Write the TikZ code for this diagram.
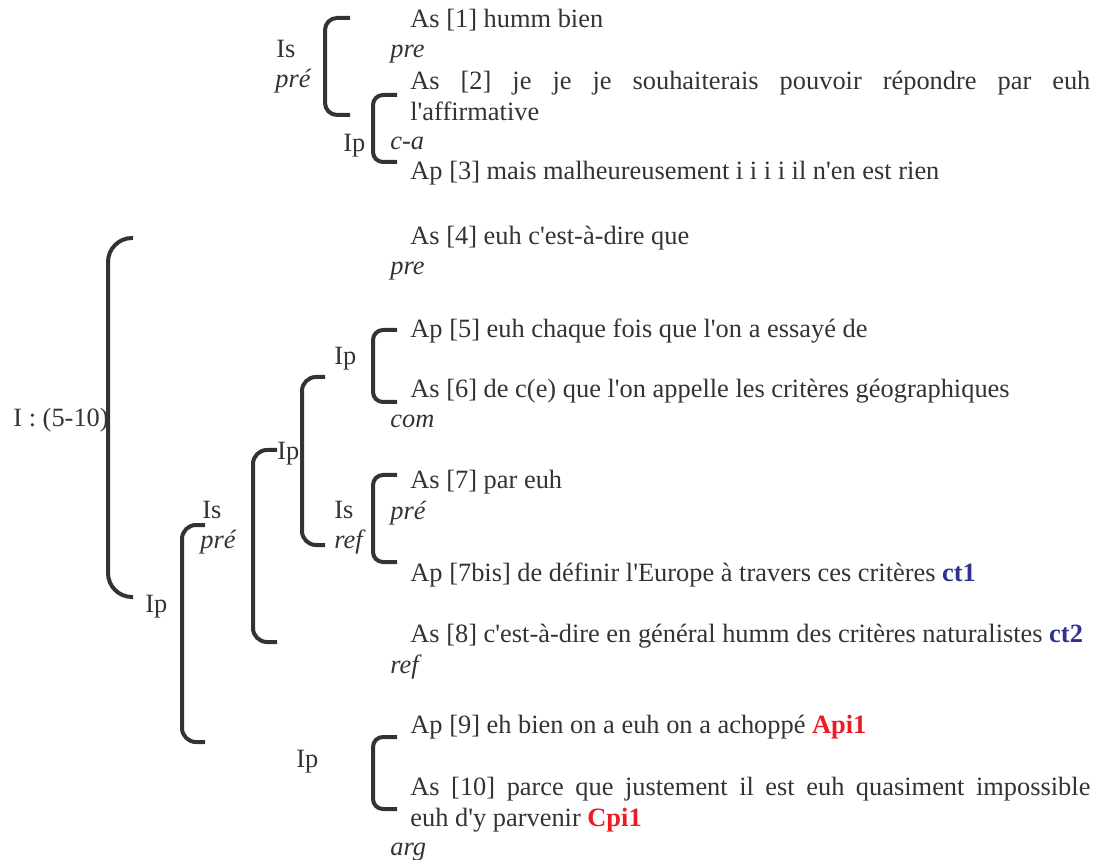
\documentclass[tikz,border=0pt]{standalone}
\usepackage{fontspec}
\setmainfont{Liberation Serif}
\usetikzlibrary{positioning}
\definecolor{textgray}{RGB}{51,51,51}
\definecolor{brkgray}{RGB}{50,50,56}
\definecolor{ctblue}{RGB}{46,49,146}
\definecolor{pired}{RGB}{237,28,36}
\hyphenpenalty=10000
\tolerance=10000
\newcommand{\q}{\textquotesingle}

\begin{document}
\begin{tikzpicture}[x=0.5pt, y=-0.5pt,
  turn/.style={anchor=base west, inner sep=0pt, text=textgray, font=\fontsize{13.2}{15.2}\selectfont},
  fn/.style={turn, font=\fontsize{13.2}{15.2}\selectfont\itshape},
  para/.style={anchor=north west, inner sep=0pt, text=textgray, text width=340pt, align=justify, font=\fontsize{13.2}{15.2}\selectfont},
  brk/.style={draw=brkgray, line width=2pt, rounded corners=#1},
  brk/.default=5pt
]
  \useasboundingbox (0,0) rectangle (1102,860);

  % exchange [1-3]
  \node[turn] (as1) at (410,28) {As [1] humm bien};
  \node[fn] (pre1) at (390,58) {pre};
  \node[para] (as2) at (410,71) {As [2] je je je souhaiterais pouvoir répondre par euh\linebreak l\q affirmative};
  \node[fn] (ca) at (390,150) {c-a};
  \node[turn] (ap3) at (410,180) {Ap [3] mais malheureusement i i i i il n\q en est rien};

  \node[turn] (is1) at (276,58) {Is};
  \node[fn] (pre1l) at (275,88) {pré};
  \node[turn] (ip1) at (343,152) {Ip};

  \draw[brk=6pt] (350,18) -| (325,115) -- (350,115);
  \draw[brk] (397,95) -| (373,162) -- (397,162);

  % intervention I : (5-10)
  \node[turn] (as4) at (410,245) {As [4] euh c\q est-à-dire que};
  \node[fn] (pre4) at (390,275) {pre};
  \node[turn] (ap5) at (410,338) {Ap [5] euh chaque fois que l\q on a essayé de};
  \node[turn] (as6) at (410,398) {As [6] de c(e) que l\q on appelle les critères géographiques};
  \node[fn] (com) at (390,428) {com};
  \node[turn] (as7) at (410,488) {As [7] par euh};
  \node[fn] (pre7) at (390,519) {pré};
  \node[turn] (ap7b) at (410,581) {Ap [7bis] de définir l\q Europe à travers ces critères {\bfseries\color{ctblue}ct1}};
  \node[turn] (as8) at (410,642) {As [8] c\q est-à-dire en général humm des critères naturalistes {\bfseries\color{ctblue}ct2}};
  \node[fn] (ref8) at (390,673) {ref};
  \node[turn] (ap9) at (410,733) {Ap [9] eh bien on a euh on a achoppé {\bfseries\color{pired}Api1}};
  \node[para] (as10) at (410,777) {As [10] parce que justement il est euh quasiment impossible\linebreak euh d\q y parvenir {\bfseries\color{pired}Cpi1}};
  \node[fn] (arg) at (390,855) {arg};

  \node[turn] (int) at (13,427) {I : (5-10)};
  \node[turn] (ipa) at (145,612) {Ip};
  \node[turn] (isb) at (202,518) {Is};
  \node[fn] (preb) at (200,548) {pré};
  \node[turn] (ipc) at (277,460) {Ip};
  \node[turn] (ipd) at (334,365) {Ip};
  \node[turn] (ise) at (334,518) {Is};
  \node[fn] (refe) at (334,548) {ref};
  \node[turn] (ipf) at (296,767) {Ip};

  \draw[brk=12pt] (133,238) -| (108,597) -- (133,597);
  \draw[brk] (397,330) -| (373,402) -- (397,402);
  \draw[brk=7pt] (325,377) -| (302,545) -- (325,545);
  \draw[brk=7pt] (277,450) -| (253,642) -- (277,642);
  \draw[brk] (397,475) -| (373,562) -- (397,562);
  \draw[brk=7pt] (205,525) -| (182,742) -- (205,742);
  \draw[brk] (397,737) -| (373,809) -- (397,809);
\end{tikzpicture}
\end{document}
